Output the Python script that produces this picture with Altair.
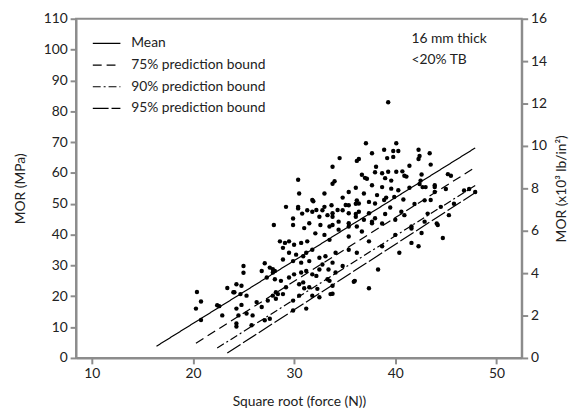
import altair as alt
import pandas as pd

# scatter points: sqrt(force) [sqrt N], MOR [MPa]
px = [20.4, 20.8, 20.3, 20.8, 22.4, 22.6, 22.9, 23.4, 24.1, 24.3, 24.8, 24.0, 24.7, 25.3,
      25.0, 25.0, 24.3, 24.8, 24.5, 24.3, 24.3, 25.3, 25.9, 25.8, 26.3, 26.8, 27.4, 27.6, 27.1,
      27.9, 28.4, 28.2, 28.2, 28.9,
      27.1, 26.8, 27.6, 28.1, 27.3, 28.1, 28.7, 27.9, 27.9,
      29.5, 30.0, 30.7, 31.2, 31.8, 32.5, 33.4,
      29.2, 30.5, 31.5, 32.3, 33.3, 33.8, 33.6, 31.0,
      29.9, 31.2, 31.8, 32.5, 29.9, 30.5, 30.9, 32.2, 33.5, 33.8, 34.1, 34.8, 35.9, 37.4, 38.3, 36.0,
      28.6, 29.1, 29.5, 30.0, 28.9, 30.7, 31.3, 31.8, 31.2, 30.2, 29.5, 28.9, 29.9, 30.7, 31.5,
      32.5, 33.1, 33.8, 32.8, 30.9, 34.1, 35.4, 36.2, 37.4, 38.7, 33.5, 32.1, 33.0, 35.4, 36.7,
      40.0, 42.6, 41.6, 44.1, 40.4, 41.6, 42.3, 44.7, 44.2,
      29.2, 30.4, 28.0, 29.9, 29.9, 30.8, 31.8, 31.9, 33.0, 33.7, 33.3, 32.6, 33.8,
      31.3, 32.8, 33.8, 34.8, 35.4, 36.2, 37.4, 36.4, 31.0, 31.5, 32.5, 33.5, 34.4, 35.4, 36.1,
      36.9, 37.7,
      30.4, 32.2, 33.8, 34.3, 35.1, 35.4, 36.1, 37.4, 38.0, 39.0, 40.6, 34.4, 35.4, 36.2, 37.7,
      40.0, 41.6, 42.9, 38.7, 36.1, 40.9, 43.2, 44.5, 45.8, 45.3,
      38.0, 38.9, 39.5, 41.9, 43.5, 36.4, 42.9,
      30.5, 31.8, 33.0, 34.8, 35.4, 36.9, 38.2, 39.1, 39.9, 40.8, 36.1, 37.7, 38.7, 39.6, 40.3,
      41.4, 42.7, 43.9, 30.4, 34.0, 33.8, 36.7, 37.0, 39.0, 39.6, 41.1, 42.6, 37.2,
      38.0, 38.7, 39.3, 40.1, 40.7, 40.9, 42.5, 43.0, 43.9, 42.4, 43.9, 45.0, 45.2, 45.5, 46.8,
      47.3, 47.9,
      33.8, 38.1, 41.4, 43.5, 34.5, 36.2, 36.4, 39.2, 39.8, 42.3, 42.4, 37.7, 38.9, 39.8, 40.3,
      42.3, 43.4, 37.1, 40.1,
      39.3]
py = [21.4, 18.3, 16.0, 12.3, 17.1, 16.8, 13.8, 22.7, 21.3, 23.9, 23.4, 21.3, 20.7, 20.2,
      29.8, 27.6, 16.0, 17.2, 13.8, 11.2, 10.2, 14.4, 13.8, 10.6, 18.1, 16.5, 18.6, 12.7, 12.2,
      20.2, 20.7, 19.2, 21.3, 20.7,
      30.7, 28.2, 29.3, 28.2, 26.1, 25.5, 25.0, 27.7, 28.8,
      26.1, 27.1, 27.7, 28.2, 27.1, 28.7, 28.7,
      22.9, 23.9, 22.9, 22.4, 25.5, 23.4, 20.7, 22.6,
      18.6, 16.0, 20.2, 19.7, 15.4, 20.2, 24.5, 26.6, 25.0, 20.8, 27.7, 29.8, 24.7, 22.6, 28.7, 25.0,
      37.8, 37.3, 37.8, 36.7, 35.7, 37.3, 37.8, 35.1, 34.1, 33.5, 34.1, 31.9, 31.4, 30.9, 31.4,
      32.5, 33.0, 30.9, 30.3, 33.0, 34.1, 35.1, 34.1, 37.8, 36.2, 38.3, 40.4, 39.9, 39.4, 41.0,
      39.9, 40.5, 42.0, 43.6, 34.1, 37.3, 36.2, 38.9, 43.1,
      49.0, 49.0, 43.1, 45.2, 43.1, 46.8, 47.4, 50.8, 49.0, 49.5, 46.3, 43.1, 43.1,
      47.9, 47.9, 45.8, 47.9, 49.5, 51.1, 50.6, 47.4, 42.1, 43.7, 45.8, 42.6, 41.6, 42.6, 45.8,
      44.8, 43.7,
      48.5, 48.0, 46.9, 48.0, 49.6, 46.9, 46.7, 46.9, 45.3, 46.7, 47.4, 44.2, 43.7, 42.6, 44.2,
      44.8, 42.6, 44.2, 43.6, 50.0, 46.3, 46.8, 49.0, 50.0, 46.3,
      50.1, 51.2, 48.8, 49.9, 51.2, 50.1, 51.1,
      53.3, 51.2, 53.3, 52.0, 53.8, 53.3, 52.8, 52.0, 52.2, 51.4, 55.2, 56.0, 55.4, 54.9, 54.4,
      55.2, 55.4, 56.0, 57.8, 57.3, 56.5, 59.4, 58.4, 58.3, 57.5, 58.8, 59.5, 58.1,
      60.2, 59.9, 60.4, 60.4, 60.5, 59.1, 57.5, 55.4, 53.8, 56.4, 55.4, 54.8, 59.6, 59.1, 54.3,
      54.8, 53.8,
      62.0, 62.0, 62.3, 62.7, 64.8, 63.9, 64.5, 64.8, 65.2, 64.5, 65.5, 66.4, 67.5, 67.1, 67.1,
      67.5, 66.4, 69.6, 69.6,
      82.9]

# regression line and prediction bounds (endpoints)
series = ["Mean", "75% prediction bound", "90% prediction bound", "95% prediction bound"]
x_start = [16.4, 20.3, 22.4, 23.4]
x_end = [47.9, 47.9, 47.9, 48.0]
y_start = [3.8, 4.8, 3.2, 1.6]
y_end = [68.1, 61.8, 55.9, 53.8]
dashes = [[1, 0], [9, 5], [8, 3, 2, 3], [16, 3]]

note_lines = ["16 mm thick", "<20% TB"]

FONT = "Lato"
GRAY = "#8c8c8c"
INK = "#222222"

pts = pd.DataFrame({"x": px, "y": py})
rows = []
for s, xa, xb, ya, yb in zip(series, x_start, x_end, y_start, y_end):
    rows.append({"series": s, "x": xa, "y": ya, "o": 0})
    rows.append({"series": s, "x": xb, "y": yb, "o": 1})
lines = pd.DataFrame(rows)
notes = pd.DataFrame({"x": [41.6, 41.6], "y": [103.4, 96.6], "t": note_lines})
right = pd.DataFrame({"k": [0, 16]})

xs = alt.Scale(domain=[8.45, 52.5], nice=False, zero=False)
ys = alt.Scale(domain=[0, 110], nice=False)

xaxis = alt.Axis(values=[10, 20, 30, 40, 50], title="Square root (force (N))", grid=False,
                 titlePadding=14)
yaxis = alt.Axis(values=list(range(0, 111, 10)), title="MOR (MPa)", grid=False,
                 titlePadding=16)

points = alt.Chart(pts).mark_circle(size=20, color="black", opacity=1).encode(
    x=alt.X("x:Q", scale=xs, axis=xaxis),
    y=alt.Y("y:Q", scale=ys, axis=yaxis),
)

line_layer = alt.Chart(lines).mark_line(color="black", strokeWidth=1.2).encode(
    x=alt.X("x:Q", scale=xs, axis=xaxis),
    y=alt.Y("y:Q", scale=ys, axis=yaxis),
    order="o:Q",
    strokeDash=alt.StrokeDash(
        "series:N",
        scale=alt.Scale(domain=series, range=dashes),
        legend=alt.Legend(
            title=None, orient="none", legendX=16, legendY=10,
            symbolType="stroke", symbolSize=784, symbolStrokeWidth=1.2,
            symbolStrokeColor="black", labelFont=FONT, labelFontSize=14,
            labelColor=INK, labelOffset=10, rowPadding=-7, padding=0,
        ),
    ),
)

text_layer = alt.Chart(notes).mark_text(
    align="left", baseline="middle", font=FONT, fontSize=14, color=INK
).encode(
    x=alt.X("x:Q", scale=xs, axis=xaxis),
    y=alt.Y("y:Q", scale=ys, axis=yaxis),
    text="t:N",
)

right_axis = alt.Chart(right).mark_point(opacity=0).encode(
    y=alt.Y("k:Q", scale=alt.Scale(domain=[0, 16], nice=False),
            axis=alt.Axis(orient="right", values=list(range(0, 17, 2)),
                          title="MOR (x10³ lb/in²)", grid=False,
                          titleAngle=270, titleBaseline="top", titlePadding=8)),
)

chart = alt.layer(
    alt.layer(line_layer, points, text_layer), right_axis
).resolve_scale(y="independent").properties(
    width=452, height=344,
    autosize=alt.AutoSizeParams(type="none"),
    padding={"left": 69, "top": 8, "right": 54, "bottom": 56},
).configure_view(
    stroke=GRAY, strokeWidth=2
).configure_axis(
    domainColor=GRAY, domainWidth=2, tickColor=GRAY, tickWidth=2, tickSize=6,
    labelFont=FONT, labelFontSize=14, labelColor=INK, labelPadding=3,
    titleFont=FONT, titleFontSize=14, titleColor=INK, titleFontWeight="normal",
)

chart.save("out.html", embed_options={"renderer": "svg", "actions": False})
